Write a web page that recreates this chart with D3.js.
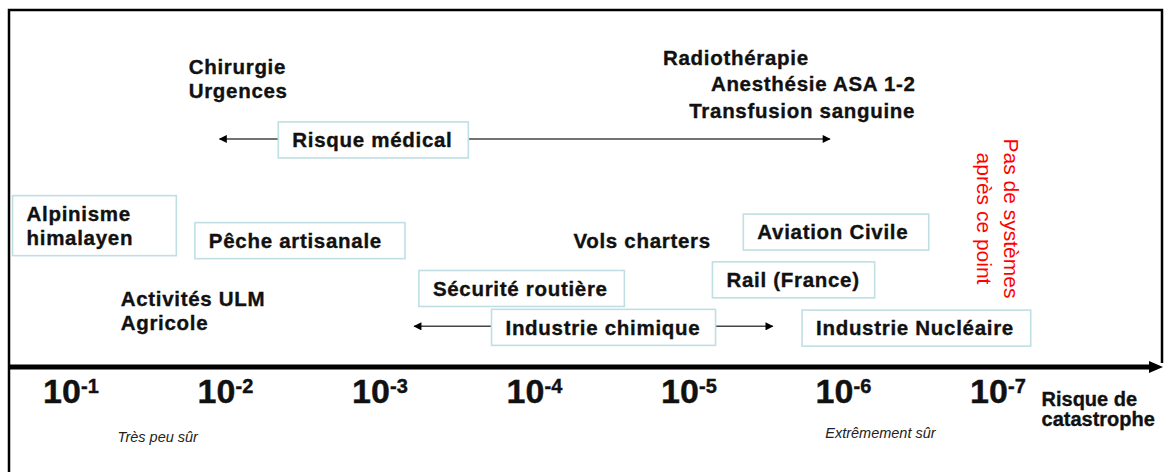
<!doctype html>
<html lang="fr">
<head>
<meta charset="utf-8">
<title>Niveaux de risque</title>
<script src="https://cdn.jsdelivr.net/npm/d3@7"></script>
<style>
  body { margin: 0; background: #fff; }
  svg { display: block; }
  text { font-family: "Liberation Sans", Arial, sans-serif; fill: #111; }
  .lbl { font-size: 20.5px; font-weight: bold; letter-spacing: 0.7px; stroke: #111; stroke-width: 0.35px; }
  .grad text { stroke: #111; stroke-width: 0.4px; }
  .cadre { fill: #fff; stroke: #bfdfe5; stroke-width: 1.6px; }
  .fleche { stroke: #444; stroke-width: 1.5px; }
</style>
</head>
<body>
<svg width="1167" height="472"></svg>
<script>
// exposants du risque (10^-n) sur l'axe
const exposants = [1, 2, 3, 4, 5, 6, 7];

// activites encadrees : libelle, intervalle de risque (exposant), hauteur au-dessus de l'axe (%)
const cadres = [
  { lignes: ["Alpinisme", "himalayen"], de: 0.68, a: 1.74, h: 39.6 },
  { lignes: ["Pêche artisanale"], de: 1.86, a: 3.22, h: 35.4 },
  { lignes: ["Risque médical"], de: 2.40, a: 3.63, h: 63.6, fleche: [2.02, 5.97] },
  { lignes: ["Sécurité routière"], de: 3.31, a: 4.64, h: 22.0 },
  { lignes: ["Industrie chimique"], de: 3.78, a: 5.23, h: 11.1, fleche: [3.28, 5.60] },
  { lignes: ["Rail (France)"], de: 5.21, a: 6.26, h: 24.4 },
  { lignes: ["Aviation Civile"], de: 5.41, a: 6.61, h: 37.8 },
  { lignes: ["Industrie Nucléaire"], de: 5.79, a: 7.27, h: 10.9 }
];

// libelles libres : exposant du debut du texte, hauteur (%)
const libres = [
  { lignes: ["Chirurgie", "Urgences"], e: 1.82, h: 84.0 },
  { lignes: ["Radiothérapie"], e: 4.89, h: 86.6 },
  { lignes: ["Anesthésie ASA 1-2"], e: 5.20, h: 79.3 },
  { lignes: ["Transfusion sanguine"], e: 5.06, h: 71.7 },
  { lignes: ["Activités ULM", "Agricole"], e: 1.38, h: 19.2 },
  { lignes: ["Vols charters"], e: 4.31, h: 35.3 }
];

const limite = { lignes: ["Pas de systèmes", "après ce point"], e: 7.06, h: 41.6 };
const bas = [
  { texte: "Très peu sûr", e: 1.36, h: -19.6 },
  { texte: "Extrêmement sûr", e: 5.94, h: -18.5 }
];
const fin = { lignes: ["Risque de", "catastrophe"], e: 7.34, h: -9.0 };

const W = 1167, H = 472;
const gauche = 9, droite = 1162, haut = 10, axeY = 367;
const x = d3.scaleLinear().domain([1, 7]).range([62, 989]);
const y = d3.scaleLinear().domain([0, 100]).range([axeY, haut]);
const interligne = 24;

const svg = d3.select("svg");

// cadre de la figure
svg.append("path")
  .attr("d", `M${gauche},${H} V${haut} H${droite} V${axeY - 4}`)
  .attr("fill", "none").attr("stroke", "#000").attr("stroke-width", 2.5);

// axe
svg.append("line")
  .attr("x1", gauche).attr("x2", droite - 12)
  .attr("y1", axeY).attr("y2", axeY)
  .attr("stroke", "#000").attr("stroke-width", 5);
svg.append("path")
  .attr("d", `M${droite + 1},${axeY} L${droite - 13},${axeY - 6} L${droite - 13},${axeY + 6} Z`)
  .attr("fill", "#000");

// graduations 10^-n
const grad = svg.selectAll(".grad").data(exposants).enter().append("g").attr("class", "grad");
grad.append("text")
  .attr("x", d => x(d)).attr("y", y(-10.1))
  .attr("text-anchor", "middle")
  .style("font-size", "34px").style("font-weight", "bold")
  .text("10");
grad.append("text")
  .attr("x", d => x(d) + 19).attr("y", y(-7.4))
  .style("font-size", "20px").style("font-weight", "bold")
  .text(d => "-" + d);

// fleches
const defs = svg.append("defs");
defs.append("marker").attr("id", "pointe")
  .attr("viewBox", "0 0 10 10").attr("refX", 9).attr("refY", 5)
  .attr("markerWidth", 10).attr("markerHeight", 8).attr("markerUnits", "userSpaceOnUse")
  .attr("orient", "auto")
  .append("path").attr("d", "M0,0 L10,5 L0,10 Z").attr("fill", "#000");

cadres.filter(d => d.fleche).forEach(d => {
  svg.append("line").attr("class", "fleche")
    .attr("x1", x(d.de)).attr("x2", x(d.fleche[0]))
    .attr("y1", y(d.h) - 1).attr("y2", y(d.h) - 1)
    .attr("marker-end", "url(#pointe)");
  svg.append("line").attr("class", "fleche")
    .attr("x1", x(d.a)).attr("x2", x(d.fleche[1]))
    .attr("y1", y(d.h) - 1).attr("y2", y(d.h) - 1)
    .attr("marker-end", "url(#pointe)");
});

// cadres
const hauteurCadre = n => n * interligne + 12;
svg.selectAll(".cadre").data(cadres).enter().append("rect")
  .attr("class", "cadre")
  .attr("x", d => x(d.de)).attr("width", d => x(d.a) - x(d.de))
  .attr("y", d => y(d.h) - hauteurCadre(d.lignes.length) / 2)
  .attr("height", d => hauteurCadre(d.lignes.length));

function bloc(d, x0, taille) {
  const t = svg.append("text").attr("class", "lbl");
  if (taille) t.style("font-size", taille).style("letter-spacing", "0px");
  const y0 = y(d.h) - (d.lignes.length - 1) * interligne / 2 * (d.centre ? 1 : 0);
  d.lignes.forEach((l, i) => {
    t.append("tspan").attr("x", x0).attr("y", y0 + i * (taille ? 20 : interligne))
      .attr("dy", "0.35em").text(l);
  });
}

cadres.forEach(d => bloc(Object.assign({ centre: true }, d), x(d.de) + 14));
libres.forEach(d => bloc(d, x(d.e)));
bloc(fin, x(fin.e), "20px");

// texte vertical rouge
const tv = svg.append("text")
  .attr("transform", `translate(${x(limite.e)},${y(limite.h)}) rotate(90)`)
  .attr("text-anchor", "middle")
  .style("font-size", "21px").style("fill", "#ff0000");
limite.lignes.forEach((l, i) => {
  tv.append("tspan").attr("x", 0).attr("y", (i - 0.5) * 27).attr("dy", "0.35em").text(l);
});

// mentions en italique
svg.selectAll(".mention").data(bas).enter().append("text")
  .attr("x", d => x(d.e)).attr("y", d => y(d.h)).attr("dy", "0.35em")
  .style("font-size", "14.5px").style("font-style", "italic").style("fill", "#222")
  .text(d => d.texte);
</script>
</body>
</html>
